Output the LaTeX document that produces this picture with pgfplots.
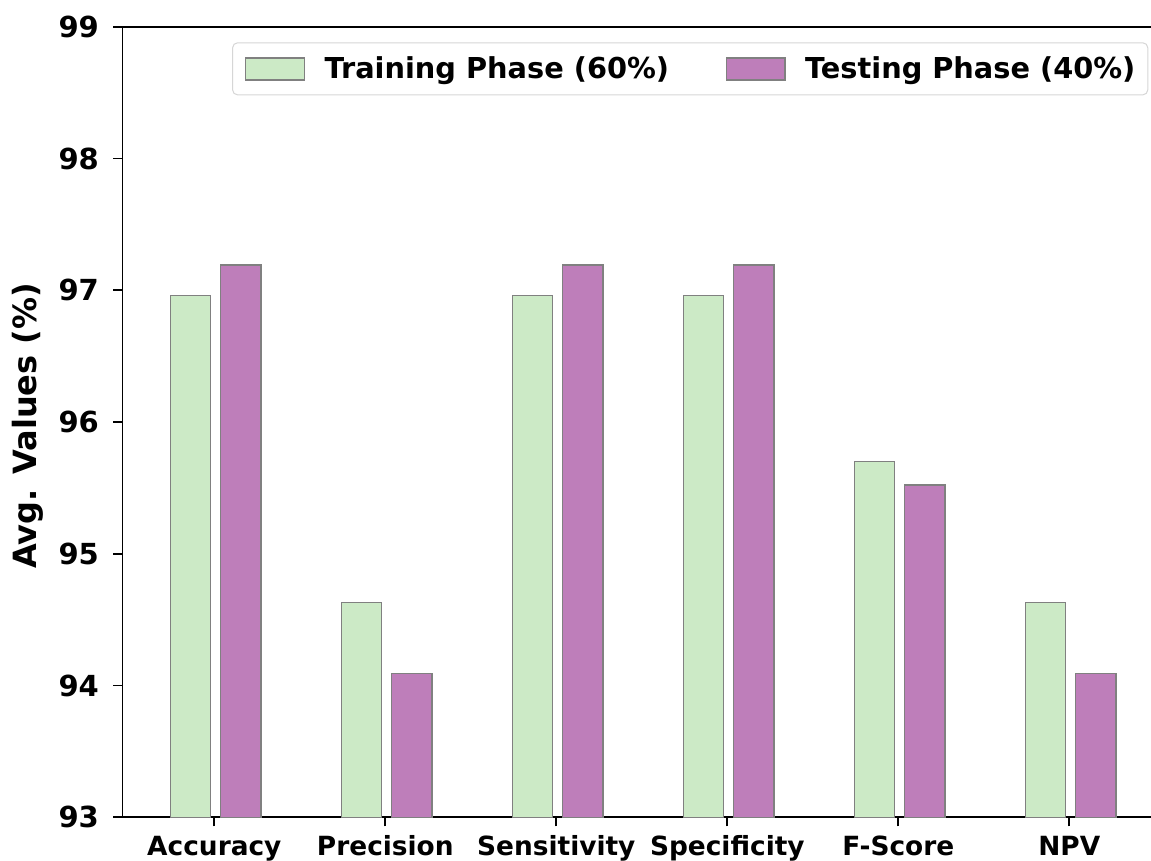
\documentclass[border=0pt]{standalone}
\usepackage{fontspec}
\setmainfont{DejaVu Sans}
\usepackage{pgfplots}
\pgfplotsset{compat=1.18}
\definecolor{trainc}{RGB}{204,234,198}
\definecolor{testc}{RGB}{190,126,186}
\definecolor{edgec}{RGB}{128,128,128}
\definecolor{legframe}{RGB}{214,214,214}

\begin{document}
\begin{tikzpicture}
\begin{axis}[
    scale only axis,
    width=520.6pt, height=395.3pt,
    xmin=-0.537, xmax=5.552,
    ymin=93, ymax=99,
    ybar,
    bar width=0.235,
    xtick={0,1,2,3,4,5},
    xticklabels={Accuracy,Precision,Sensitivity,Specificity,F-Score,NPV},
    ytick={93,94,...,99},
    tick align=outside,
    xtick pos=bottom, ytick pos=left,
    major tick length=4.5pt,
    every tick/.style={black, line width=0.9pt},
    axis line style={line width=0.9pt},
    /pgf/number format/assume math mode=true,
    yticklabel style={font=\fontsize{14.5}{17}\selectfont\bfseries, anchor=east, inner sep=0pt, xshift=-7.1pt},
    xticklabel style={font=\fontsize{13.2}{15}\selectfont\bfseries, anchor=base, inner sep=0pt, yshift=-14.85pt},
    legend columns=2,
    legend style={
        at={(rel axis cs:1,1)}, anchor=north east, xshift=-7.7pt, yshift=-7.8pt,
        draw=legframe, line width=0.5pt, rounded corners=2.5pt,
        inner xsep=6.2pt, inner ysep=6.8pt,
        font=\fontsize{14.4}{17}\selectfont\bfseries,
        nodes={inner sep=0pt},
        /tikz/every odd column/.append style={column sep=9.75pt},
        /tikz/every even column/.append style={column sep=28.2pt},
    },
    legend image code/.code={\draw[#1, rounded corners=0pt] (0pt,-5.5pt) rectangle (29.3pt,5.5pt);},
]
\addplot[fill=trainc, draw=edgec, line width=0.75pt, bar shift=-0.14]
    coordinates {(0,96.96) (1,94.63) (2,96.96) (3,96.96) (4,95.70) (5,94.63)};
\addplot[fill=testc, draw=edgec, line width=0.75pt, bar shift=0.155]
    coordinates {(0,97.19) (1,94.09) (2,97.19) (3,97.19) (4,95.52) (5,94.09)};
\legend{Training Phase (60\%), Testing Phase (40\%)}
\coordinate (O) at (rel axis cs:0,0);
\coordinate (L) at (rel axis cs:0,0.5);
\end{axis}
\node[rotate=90, anchor=south, inner sep=0pt, font=\fontsize{16}{19}\selectfont\bfseries]
    at ([xshift=-39.4pt, yshift=-2pt]L) {Avg. Values (\%)};
\pgfresetboundingbox
\path[use as bounding box] ([xshift=-61.25pt, yshift=-21.85pt]O) rectangle ++(575.5pt,430.5pt);
\end{tikzpicture}
\end{document}
